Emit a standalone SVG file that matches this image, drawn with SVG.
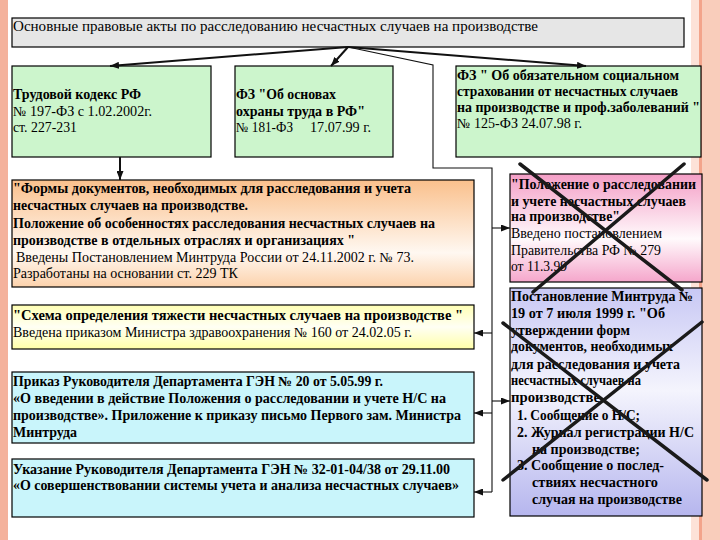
<svg xmlns="http://www.w3.org/2000/svg" width="720" height="540" viewBox="0 0 720 540">
<style>
.b{font-weight:bold}
.box{stroke:#000;stroke-width:1.2}
.thick{stroke:#111;stroke-width:2;fill:none}
.thin{stroke:#111;stroke-width:1.1;fill:none}
.x{stroke:#1a1a1a;stroke-width:3.5;stroke-linecap:round}
</style>
<defs>
<marker id="ah" markerUnits="userSpaceOnUse" markerWidth="9" markerHeight="7" refX="9" refY="3.5" orient="auto"><path d="M0,0 L9,3.5 L0,7 z" fill="#111"/></marker>
<linearGradient id="gOr" x1="0" y1="0" x2="0" y2="1"><stop offset="0" stop-color="#fac08c"/><stop offset="0.68" stop-color="#fff8f1"/><stop offset="1" stop-color="#fcd2ac"/></linearGradient>
<linearGradient id="gYe" x1="0" y1="0" x2="0" y2="1"><stop offset="0" stop-color="#ffffb4"/><stop offset="0.5" stop-color="#fffff4"/><stop offset="1" stop-color="#ffffa8"/></linearGradient>
<linearGradient id="gPk" x1="0" y1="0" x2="0" y2="1"><stop offset="0" stop-color="#f49ec6"/><stop offset="0.6" stop-color="#fffafc"/><stop offset="1" stop-color="#f5a6cb"/></linearGradient>
<linearGradient id="gBl" x1="0" y1="0" x2="0" y2="1"><stop offset="0" stop-color="#c8c8f4"/><stop offset="0.45" stop-color="#f4f4fd"/><stop offset="1" stop-color="#b6b6ee"/></linearGradient>
</defs>
<rect width="720" height="540" fill="#fff"/>
<g id="background">
<rect x="0" y="0" width="8" height="540" fill="#f4b29c"/>
<rect x="691" y="0" width="8" height="540" fill="#fde2d8"/>
<rect x="699" y="0" width="3" height="540" fill="#f3a48b"/>
<rect x="702" y="0" width="18" height="540" fill="#f9cdbb"/>
</g>
<g font-family="Liberation Serif" font-size="13.8" fill="#000">
<g id="title">
<rect class="box" x="12" y="18" width="672" height="29" fill="#e6e6e6"/>
<text x="13" y="31" textLength="525" lengthAdjust="spacingAndGlyphs">Основные правовые акты по расследованию несчастных случаев на производстве</text>
</g>
<g id="tk">
<rect class="box" x="12" y="66" width="199" height="91" fill="#ccf5cc"/>
<text class="b" x="13" y="99" textLength="128" lengthAdjust="spacingAndGlyphs">Трудовой кодекс РФ</text>
<text x="13" y="116" textLength="139" lengthAdjust="spacingAndGlyphs">№ 197-ФЗ с 1.02.2002г.</text>
<text x="13" y="132" textLength="64" lengthAdjust="spacingAndGlyphs">ст. 227-231</text>
</g>
<g id="fz181">
<rect class="box" x="235" y="66" width="158" height="91" fill="#ccf5cc"/>
<text class="b" x="236" y="99" textLength="100" lengthAdjust="spacingAndGlyphs">ФЗ "Об основах</text>
<text class="b" x="236" y="116" textLength="129" lengthAdjust="spacingAndGlyphs">охраны труда в РФ"</text>
<text x="236" y="132" textLength="57" lengthAdjust="spacingAndGlyphs">№ 181-ФЗ</text>
<text x="310" y="132" textLength="61" lengthAdjust="spacingAndGlyphs">17.07.99 г.</text>
</g>
<g id="fz125">
<rect class="box" x="456" y="66" width="245" height="91" fill="#ccf5cc"/>
<text class="b" x="457" y="80" textLength="222" lengthAdjust="spacingAndGlyphs">ФЗ " Об обязательном социальном</text>
<text class="b" x="457" y="96" textLength="221" lengthAdjust="spacingAndGlyphs">страховании от несчастных случаев</text>
<text class="b" x="457" y="112" textLength="243" lengthAdjust="spacingAndGlyphs">на производстве и проф.заболеваний "</text>
<text x="457" y="128" textLength="125" lengthAdjust="spacingAndGlyphs">№ 125-ФЗ 24.07.98 г.</text>
</g>
<g id="forms">
<rect class="box" x="12" y="180" width="462" height="107" fill="url(#gOr)"/>
<text class="b" x="13" y="193" textLength="398" lengthAdjust="spacingAndGlyphs">"Формы документов, необходимых для расследования и учета</text>
<text class="b" x="13" y="210" textLength="235" lengthAdjust="spacingAndGlyphs">несчастных случаев на производстве.</text>
<text class="b" x="13" y="228" textLength="422" lengthAdjust="spacingAndGlyphs">Положение об особенностях расследования несчастных случаев на</text>
<text class="b" x="13" y="245" textLength="342" lengthAdjust="spacingAndGlyphs">производстве в отдельных отраслях и организациях "</text>
<text x="16" y="262" textLength="398" lengthAdjust="spacingAndGlyphs">Введены Постановлением Минтруда России от 24.11.2002 г. № 73.</text>
<text x="13" y="278" textLength="225" lengthAdjust="spacingAndGlyphs">Разработаны на основании ст. 229 ТК</text>
</g>
<g id="scheme">
<rect class="box" x="12" y="305" width="462" height="44" fill="url(#gYe)"/>
<text class="b" x="13" y="319.5" textLength="450" lengthAdjust="spacingAndGlyphs">"Схема определения тяжести несчастных случаев на производстве "</text>
<text x="13" y="336.5" textLength="399" lengthAdjust="spacingAndGlyphs">Введена приказом Министра здравоохранения № 160 от 24.02.05 г.</text>
</g>
<g id="order20">
<rect class="box" x="12" y="372" width="462" height="71" fill="#c9f5fb"/>
<text class="b" x="13" y="386" textLength="370" lengthAdjust="spacingAndGlyphs">Приказ Руководителя Департамента ГЭН № 20 от 5.05.99 г.</text>
<text class="b" x="13" y="403" textLength="433" lengthAdjust="spacingAndGlyphs">«О введении в действие Положения о расследовании и учете Н/С на</text>
<text class="b" x="13" y="419.5" textLength="448" lengthAdjust="spacingAndGlyphs">производстве». Приложение к приказу письмо Первого зам. Министра</text>
<text class="b" x="13" y="437" textLength="64" lengthAdjust="spacingAndGlyphs">Минтруда</text>
</g>
<g id="instruction32">
<rect class="box" x="12" y="459" width="462" height="58" fill="#c9f5fb"/>
<text class="b" x="13" y="474" textLength="437" lengthAdjust="spacingAndGlyphs">Указание Руководителя Департамента ГЭН № 32-01-04/38 от 29.11.00</text>
<text class="b" x="13" y="489.5" textLength="446" lengthAdjust="spacingAndGlyphs">«О совершенствовании системы учета и анализа несчастных случаев»</text>
</g>
<g id="regulation279">
<rect class="box" x="510" y="174" width="192" height="108" fill="url(#gPk)"/>
<text class="b" x="511" y="188.5" textLength="185" lengthAdjust="spacingAndGlyphs">"Положение о расследовании</text>
<text class="b" x="511" y="205.5" textLength="175" lengthAdjust="spacingAndGlyphs">и учете несчастных случаев</text>
<text class="b" x="511" y="221" textLength="109" lengthAdjust="spacingAndGlyphs">на производстве"</text>
<text x="511" y="238" textLength="151" lengthAdjust="spacingAndGlyphs">Введено постановлением</text>
<text x="511" y="254.5" textLength="150" lengthAdjust="spacingAndGlyphs">Правительства РФ № 279</text>
<text x="511" y="271" textLength="56" lengthAdjust="spacingAndGlyphs">от 11.3.99</text>
</g>
<g id="resolution19">
<rect class="box" x="510" y="288" width="192" height="228" fill="url(#gBl)"/>
<text class="b" x="511" y="301" textLength="182" lengthAdjust="spacingAndGlyphs">Постановление Минтруда №</text>
<text class="b" x="511" y="318" textLength="154" lengthAdjust="spacingAndGlyphs">19 от 7 июля 1999 г. "Об</text>
<text class="b" x="511" y="335" textLength="119" lengthAdjust="spacingAndGlyphs">утверждении форм</text>
<text class="b" x="511" y="351" textLength="162" lengthAdjust="spacingAndGlyphs">документов, необходимых</text>
<text class="b" x="511" y="368.5" textLength="169" lengthAdjust="spacingAndGlyphs">для расследования и учета</text>
<text class="b" x="511" y="385" textLength="130" lengthAdjust="spacingAndGlyphs">несчастных случаев на</text>
<text class="b" x="511" y="402" textLength="89" lengthAdjust="spacingAndGlyphs">производстве</text>
<text class="b" x="517" y="419.5" textLength="123" lengthAdjust="spacingAndGlyphs">1. Сообщение о Н/С;</text>
<text class="b" x="517" y="437" textLength="177" lengthAdjust="spacingAndGlyphs">2. Журнал регистрации Н/С</text>
<text class="b" x="532" y="454" textLength="108" lengthAdjust="spacingAndGlyphs">на производстве;</text>
<text class="b" x="517" y="470" textLength="147" lengthAdjust="spacingAndGlyphs">3. Сообщение о послед-</text>
<text class="b" x="532" y="487" textLength="126" lengthAdjust="spacingAndGlyphs">ствиях несчастного</text>
<text class="b" x="532" y="503.5" textLength="150" lengthAdjust="spacingAndGlyphs">случая на производстве</text>
</g>
</g>
<g id="connectors">
<line class="thick" x1="348" y1="47" x2="110" y2="66" marker-end="url(#ah)"/>
<line class="thick" x1="348" y1="47" x2="331" y2="66" marker-end="url(#ah)"/>
<line class="thick" x1="348" y1="47" x2="586" y2="66" marker-end="url(#ah)"/>
<polyline class="thin" points="348,47 433,65 433,168 492,168 492,492"/>
<line class="thick" x1="120" y1="157" x2="120" y2="180" marker-end="url(#ah)"/>
<line class="thin" x1="492" y1="228" x2="510" y2="228" marker-end="url(#ah)"/>
<line class="thin" x1="492" y1="333" x2="474" y2="333" marker-end="url(#ah)"/>
<line class="thin" x1="492" y1="401" x2="510" y2="401" marker-end="url(#ah)"/>
<line class="thin" x1="492" y1="413" x2="474" y2="413" marker-end="url(#ah)"/>
<line class="thin" x1="492" y1="492" x2="474" y2="492" marker-end="url(#ah)"/>
</g>
<g id="strikes">
<line class="x" x1="520" y1="164" x2="682" y2="290"/>
<line class="x" x1="684" y1="164" x2="533" y2="292"/>
<line class="x" x1="503" y1="323" x2="707" y2="480"/>
<line class="x" x1="702" y1="322" x2="503" y2="480"/>
</g>
</svg>
